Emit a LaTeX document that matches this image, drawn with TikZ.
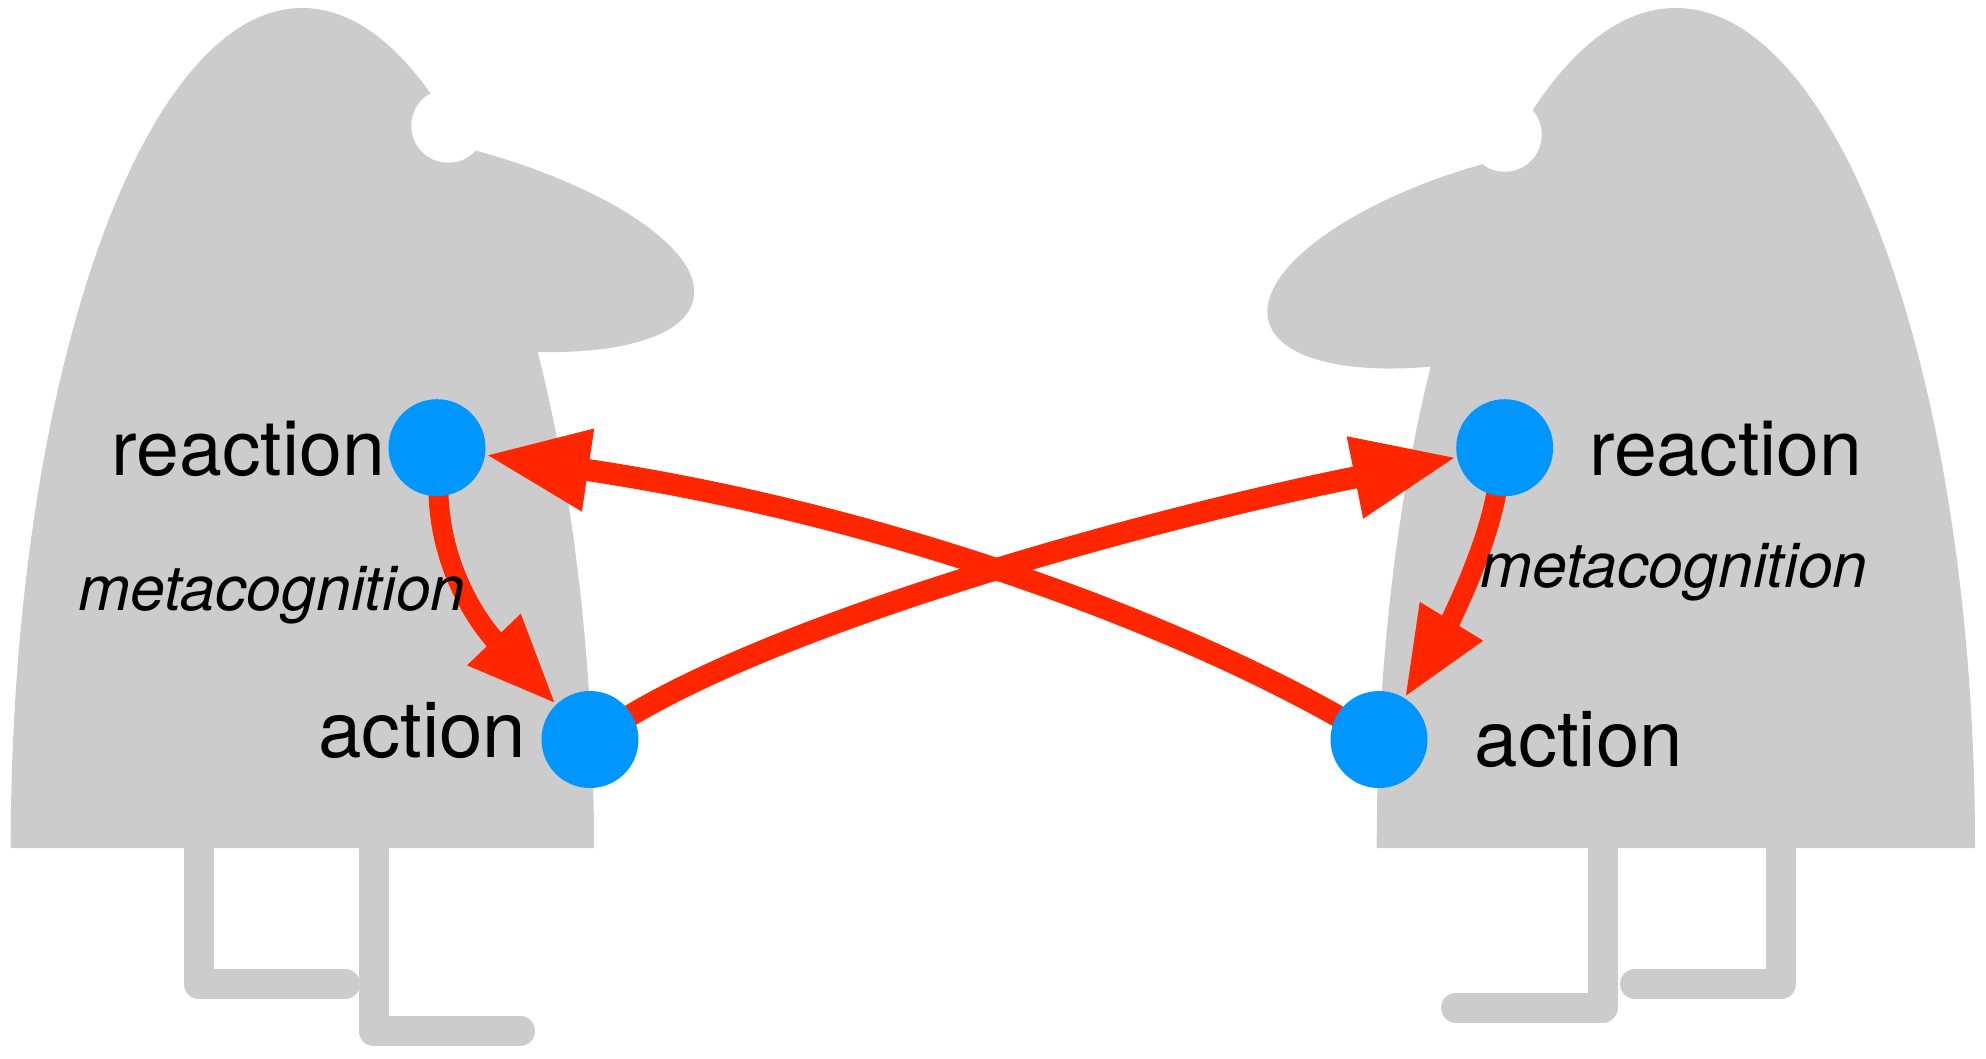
\documentclass[tikz,border=0pt]{standalone}
\usepackage{fontspec}
\setmainfont{TeX Gyre Heros}
\usetikzlibrary{arrows.meta}
\definecolor{body}{HTML}{CCCCCC}
\definecolor{dotblue}{HTML}{0096FF}
\definecolor{linkred}{HTML}{FF2600}
\pgfdeclarelayer{figures}
\pgfdeclarelayer{links}
\pgfsetlayers{figures,links,main}
\tikzset{
  dot/.style={circle,fill=dotblue,inner sep=0pt,minimum size=97pt},
  word/.style={anchor=base west,inner sep=0pt,text=black,font=\fontsize{77}{82}\selectfont},
  actword/.style={anchor=base west,inner sep=0pt,text=black,font=\fontsize{78}{82}\selectfont},
  meta/.style={anchor=base west,inner sep=0pt,text=black,font=\fontsize{62.5}{66}\selectfont\itshape},
  leg/.style={draw=body,line width=30pt,line cap=round,line join=round},
  biglink/.style={draw=linkred,line width=22pt,shorten <=-2pt,-{Triangle[length=104pt,width=77pt]}},
  smalllink/.style={draw=linkred,line width=20pt,shorten <=-2pt,-{Triangle[length=90pt,width=68pt]}}
}
\begin{document}
\begin{tikzpicture}[x=1pt,y=-1pt]
\useasboundingbox (0,0) rectangle (1986,1058);
\begin{pgfonlayer}{figures}
  % left figure
  \draw[leg] (199,840) -- (199,984) -- (345,984);
  \draw[leg] (373.5,840) -- (373.5,1031) -- (520,1031);
  \fill[body] (10.7,848) .. controls (10.7,384) and (141.3,8) .. (302.3,8)
     .. controls (463.3,8) and (594,384) .. (594,848) -- cycle;
  \fill[body] (420,238) circle[x radius=280.3,y radius=98.3,rotate=-12.75];
  \fill[white] (448.3,125.7) circle[radius=37];
  % right figure
  \draw[leg] (1602.5,840) -- (1602.5,1007.5) -- (1456,1007.5);
  \draw[leg] (1781,840) -- (1781,984) -- (1635,984);
  \fill[body] (1376.7,848) .. controls (1376.7,384) and (1510.6,8) .. (1675.8,8)
     .. controls (1841,8) and (1975,384) .. (1975,848) -- cycle;
  \fill[body] (1513,254.8) circle[x radius=253.3,y radius=95.5,rotate=15.26];
  \fill[white] (1504.7,134.7) circle[radius=37];
\end{pgfonlayer}

\node[dot] (lreact) at (437,447.7) {};
\node[dot] (lact) at (590,739.5) {};
\node[dot] (rreact) at (1504.7,447.7) {};
\node[dot] (ract) at (1379,739.5) {};

\node[word] (lreactw) at (111.5,475) {reaction};
\node[actword] (lactw) at (318,757.7) {action};
\node[meta] (lmeta) at (78,610) {metacognition};
\node[word] (rreactw) at (1589,475) {reaction};
\node[actword] (ractw) at (1474.5,766.7) {action};
\node[meta] (rmeta) at (1480,587.7) {metacognition};

\begin{pgfonlayer}{links}
  \draw[biglink] (lact) .. controls (803,612.5) and (1169,514.4) .. (rreact);
  \draw[biglink] (ract) .. controls (1165,618.7) and (880,513.3) .. (lreact);
  \draw[smalllink] (lreact) .. controls (441,570) and (480,625) .. (lact);
  \draw[smalllink] (rreact) .. controls (1484,560) and (1440,640) .. (ract);
\end{pgfonlayer}
\end{tikzpicture}
\end{document}
